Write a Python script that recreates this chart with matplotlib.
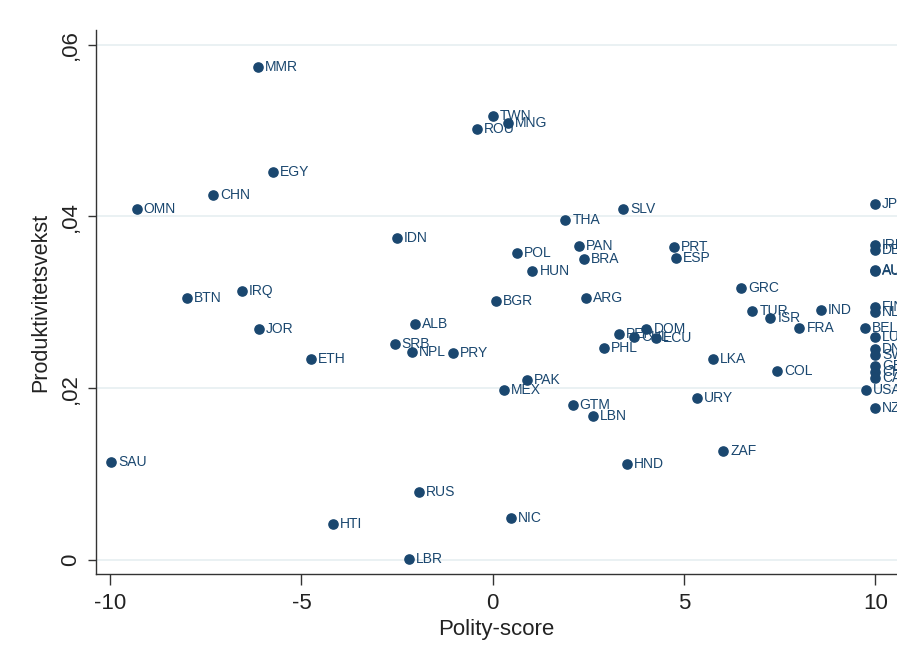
import numpy as np
import matplotlib
matplotlib.use("Agg")
import matplotlib.pyplot as plt
from matplotlib.ticker import FuncFormatter

plt.rcParams['font.family'] = ['Liberation Sans', 'DejaVu Sans']
plt.rcParams['axes.unicode_minus'] = False

# Country codes, polity score and productivity growth
countries = ["MMR", "TWN", "MNG", "ROU", "EGY", "CHN", "OMN", "JPN", "THA", "SLV",
             "IDN", "PAN", "PRT", "POL", "ESP", "BRA", "HUN", "IRL", "DEU", "AUT",
             "AUS", "GRC", "BTN", "IRQ", "BGR", "ARG", "TUR", "ISR", "IND", "FRA",
             "FIN", "NLD", "BEL", "LUX", "DNK", "SWE", "GBR", "CHE", "CAN", "USA",
             "NZL", "JOR", "ALB", "SRB", "NPL", "PRY", "ETH", "PER", "CHL", "DOM",
             "ECU", "PHL", "LKA", "COL", "PAK", "MEX", "URY", "GTM", "LBN", "SAU",
             "HND", "ZAF", "RUS", "HTI", "NIC", "LBR"]
polity = [-6.14, 0.0, 0.39, -0.42, -5.74, -7.31, -9.3, 10.0, 1.9, 3.42,
          -2.5, 2.25, 4.73, 0.63, 4.8, 2.38, 1.04, 10.0, 10.0, 10.0,
          10.0, 6.5, -7.99, -6.55, 0.08, 2.45, 6.79, 7.26, 8.59, 8.02,
          10.0, 10.0, 9.74, 10.0, 10.0, 10.0, 10.0, 10.0, 10.0, 9.77,
          10.0, -6.11, -2.04, -2.56, -2.11, -1.04, -4.75, 3.29, 3.7, 4.02,
          4.28, 2.92, 5.77, 7.44, 0.89, 0.29, 5.35, 2.09, 2.61, -9.97,
          3.52, 6.03, -1.93, -4.18, 0.47, -2.19]
growth = [0.0574, 0.0517, 0.0509, 0.0502, 0.0452, 0.0425, 0.0409, 0.0415, 0.0396, 0.0409,
          0.0375, 0.0365, 0.0364, 0.0357, 0.0352, 0.0350, 0.0336, 0.0367, 0.0361, 0.0338,
          0.0337, 0.0317, 0.0305, 0.0313, 0.0301, 0.0305, 0.0290, 0.0282, 0.0291, 0.0270,
          0.0295, 0.0289, 0.0270, 0.0260, 0.0246, 0.0239, 0.0226, 0.0219, 0.0212, 0.0198,
          0.0177, 0.0269, 0.0275, 0.0252, 0.0242, 0.0241, 0.0234, 0.0263, 0.0260, 0.0269,
          0.0259, 0.0247, 0.0234, 0.0220, 0.0209, 0.0198, 0.0189, 0.0181, 0.0168, 0.0114,
          0.0112, 0.0127, 0.0079, 0.0042, 0.0049, 0.0001]

navy = "#1a476f"

fig = plt.figure(figsize=(8.97, 6.53), dpi=100)
ax = fig.add_axes([0.107, 0.121, 0.893, 0.833])

ax.scatter(polity, growth, s=44, color=navy, zorder=3, clip_on=False)
for name, x, y in zip(countries, polity, growth):
    ax.annotate(name, (x, y), xytext=(5, 0), textcoords="offset points",
                va="center", ha="left", fontsize=10, color=navy,
                clip_on=True, annotation_clip=True)

ax.set_xlim(-10.37, 10.57)
ax.set_ylim(-0.00163, 0.0617)
ax.set_xticks([-10, -5, 0, 5, 10])
ax.set_yticks([0, 0.02, 0.04, 0.06])

def comma_fmt(v, pos):
    if abs(v) < 1e-9:
        return "0"
    return ("%.2f" % v).lstrip("0").replace(".", ",")

ax.yaxis.set_major_formatter(FuncFormatter(comma_fmt))
ax.grid(axis="y", color="#e6eff1", linewidth=1.2, zorder=0)
ax.set_axisbelow(True)

for side in ["top", "right"]:
    ax.spines[side].set_visible(False)
for side in ["left", "bottom"]:
    ax.spines[side].set_color("#333333")
    ax.spines[side].set_linewidth(1.0)

ax.tick_params(axis="both", direction="out", length=8, width=1, colors="#333333",
               labelsize=16, labelcolor="#222222")
ax.tick_params(axis="x", pad=6)
ax.tick_params(axis="y", length=6, pad=5)
plt.setp(ax.get_yticklabels(), rotation=90, va="center")

ax.set_xlabel("Polity-score", fontsize=16, color="#222222", labelpad=3)
ax.set_ylabel("Produktivitetsvekst", fontsize=15.5, color="#222222", labelpad=6)

fig.savefig("out.png", dpi=100)
